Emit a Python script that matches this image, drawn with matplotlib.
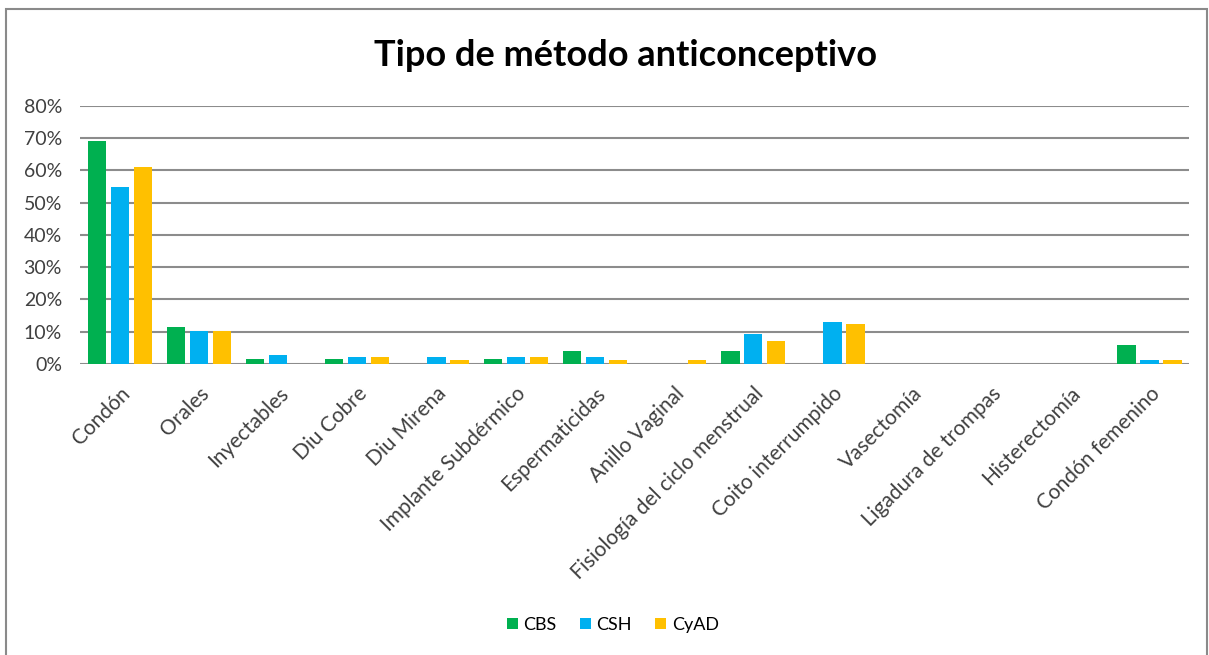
import numpy as np
import matplotlib
matplotlib.use("Agg")
import matplotlib.pyplot as plt
from matplotlib.ticker import PercentFormatter

plt.rcParams['font.family'] = ['Lato', 'DejaVu Sans']

categorias = ['Condón', 'Orales', 'Inyectables', 'Diu Cobre', 'Diu Mirena',
              'Implante Subdérmico', 'Espermaticidas', 'Anillo Vaginal',
              'Fisiología del ciclo menstrual', 'Coito interrumpido',
              'Vasectomía', 'Ligadura de trompas', 'Histerectomía',
              'Condón femenino']
cbs = [69.0, 11.5, 1.7, 1.7, 0.0, 1.7, 3.9, 0.0, 3.9, 0.0, 0.0, 0.0, 0.0, 6.0]
csh = [55.0, 10.2, 2.9, 2.2, 2.2, 2.2, 2.2, 0.0, 9.2, 12.9, 0.0, 0.0, 0.0, 1.1]
cyad = [61.0, 10.3, 0.0, 2.2, 1.1, 2.2, 1.1, 1.1, 7.0, 12.4, 0.0, 0.0, 0.0, 1.1]
series = [('CBS', cbs, '#00B050'), ('CSH', csh, '#00B0F0'), ('CyAD', cyad, '#FFC000')]

fig = plt.figure(figsize=(12.09, 6.55), dpi=100)
ax = fig.add_axes([0.0662, 0.4443, 0.9173, 0.3939])

x = np.arange(len(categorias))
paso = 0.29
for i, (nombre, vals, color) in enumerate(series):
    ax.bar(x + (i - 1) * paso, vals, width=0.23, color=color, label=nombre, zorder=3)

ax.set_xlim(-0.5, len(categorias) - 0.5)
ax.set_ylim(0, 80)
ax.set_yticks(np.arange(0, 81, 10))
ax.yaxis.set_major_formatter(PercentFormatter(decimals=0))
ax.yaxis.grid(True, color='#8c8c8c', linewidth=1.5, zorder=0)
for s in ax.spines.values():
    s.set_visible(False)
ax.tick_params(axis='y', length=0, labelsize=14, colors='#404040', pad=13)
ax.tick_params(axis='x', length=0, labelsize=15, colors='#404040', pad=14)
ax.set_xticks(x)
ax.set_xticklabels(categorias, rotation=45, ha='right', rotation_mode='anchor')

fig.text(0.517, 0.916, 'Tipo de método anticonceptivo', ha='center', va='center',
         fontsize=26, fontweight='bold', color='black')

fig.legend(loc='center', bbox_to_anchor=(0.507, 0.046), ncol=3, frameon=False,
           fontsize=13, handlelength=0.6, handleheight=0.6, handletextpad=0.3,
           columnspacing=1.3)

# marco gris de la imagen
fig.add_artist(plt.Rectangle((0.005, -0.01), 0.993, 0.996, transform=fig.transFigure,
                             fill=False, edgecolor='#8a8a8a', linewidth=1.5))

fig.savefig('out.png', dpi=100)
